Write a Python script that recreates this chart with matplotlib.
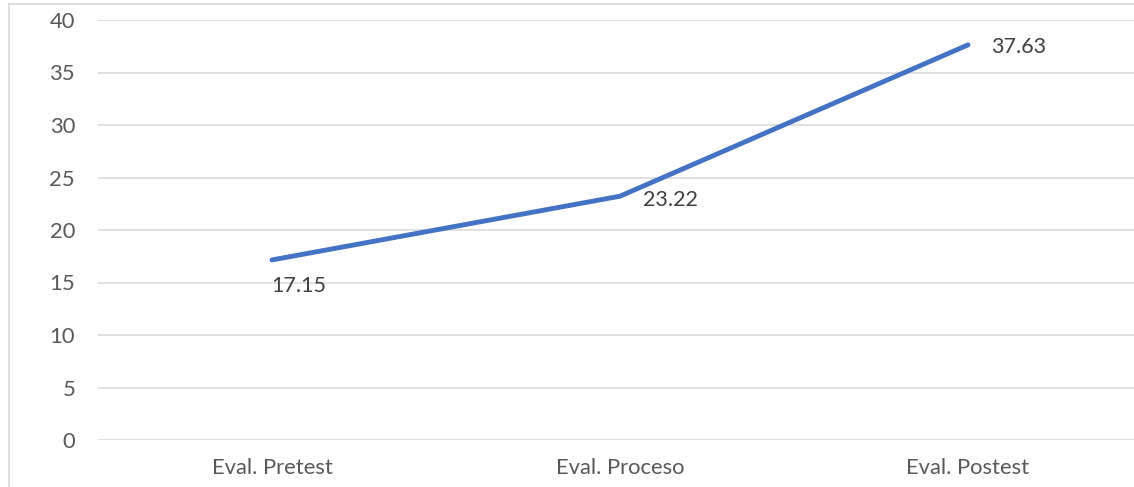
import matplotlib
matplotlib.use("Agg")
import matplotlib.pyplot as plt
from matplotlib.lines import Line2D

categories = ["Eval. Pretest", "Eval. Proceso", "Eval. Postest"]
values = [17.15, 23.22, 37.63]
yticks = [0, 5, 10, 15, 20, 25, 30, 35, 40]
value_labels = ["17.15", "23.22", "37.63"]

plt.rcParams['font.family'] = ['Lato', 'DejaVu Sans']

W, H = 1134, 487
fig = plt.figure(figsize=(W / 100, H / 100), dpi=100)
# axes in pixel coordinates: left 98, right 1142, bottom y=440, top y=20
ax = fig.add_axes([98 / W, (H - 440) / H, (1142 - 98) / W, (440 - 20) / H])

x = list(range(len(categories)))
ax.plot(x, values, color="#4472C4", linewidth=3.5, solid_capstyle="round", zorder=3)

ax.set_xlim(-0.5, len(categories) - 0.5)
ax.set_ylim(0, 40)
ax.set_yticks(yticks)
ax.set_yticklabels([str(t) for t in yticks])
ax.set_xticks(x)
ax.set_xticklabels(categories)
ax.grid(axis="y", color="#D9D9D9", linewidth=1.1, zorder=0)
ax.set_axisbelow(True)
for s in ax.spines.values():
    s.set_visible(False)
ax.tick_params(axis="both", length=0, labelsize=15.8, colors="#595959")
ax.tick_params(axis="y", pad=16.5)
ax.tick_params(axis="x", pad=13)

offsets = [(-1, -26), (23, -4), (23, -2)]
for xi, v, lab, off in zip(x, values, value_labels, offsets):
    ax.annotate(lab, (xi, v), xytext=off, textcoords="offset pixels",
                ha="left", va="center", fontsize=15.5, color="#404040")

# chart border (cropped)
fig.add_artist(Line2D([8.5 / W, 8.5 / W], [0, 1 - 4 / H], transform=fig.transFigure,
                      color="#D9D9D9", linewidth=1.2))
fig.add_artist(Line2D([8.5 / W, 1], [1 - 4 / H, 1 - 4 / H], transform=fig.transFigure,
                      color="#D9D9D9", linewidth=1.2))

fig.savefig("out.png", dpi=100, facecolor="white")
